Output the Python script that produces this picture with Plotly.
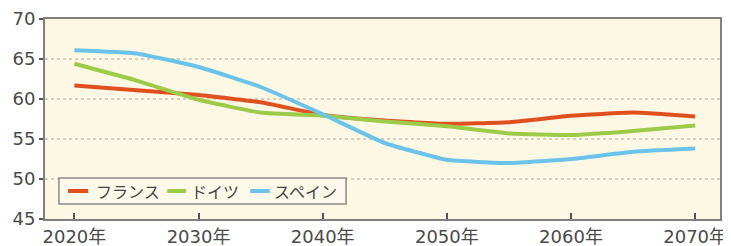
import plotly.graph_objects as go

years = [2020, 2025, 2030, 2035, 2040, 2045, 2050, 2055, 2060, 2065, 2070]
france = [61.7, 61.1, 60.5, 59.6, 58.0, 57.3, 56.9, 57.1, 57.9, 58.3, 57.8]
germany = [64.4, 62.3, 59.9, 58.3, 57.9, 57.2, 56.6, 55.7, 55.5, 56.0, 56.7]
spain = [66.1, 65.7, 64.0, 61.5, 58.1, 54.5, 52.4, 52.0, 52.5, 53.4, 53.8]
series_names = ["フランス", "ドイツ", "スペイン"]
colors = ["#e0501e", "#9bcb48", "#6cc3ea"]
xtick_vals = [2020, 2030, 2040, 2050, 2060, 2070]
xtick_text = ["2020年", "2030年", "2040年", "2050年", "2060年", "2070年"]
ytick_vals = [45, 50, 55, 60, 65, 70]

fig = go.Figure()
for name, vals, col in zip(series_names, [france, germany, spain], colors):
    fig.add_trace(go.Scatter(x=years, y=vals, name=name, mode="lines", showlegend=False,
                             line=dict(color=col, width=4, shape="spline", smoothing=0.4)))

# dotted gridlines
for v in [50, 55, 60, 65]:
    fig.add_shape(type="line", xref="paper", x0=0, x1=1, yref="y", y0=v, y1=v,
                  line=dict(color="#c8c4b4", width=1.5, dash="dot"), layer="below")

# custom legend (box, sample lines, labels) in paper coordinates
fig.add_shape(type="rect", xref="paper", yref="paper", x0=0.0207, x1=0.446, y0=0.075, y1=0.205,
              line=dict(color="#8a8a8a", width=1.5), fillcolor="#fdf9ea", layer="above")
legend_line_x = [(0.034, 0.064), (0.181, 0.209), (0.304, 0.333)]
legend_text_x = [0.072, 0.213, 0.337]
for (x0, x1), tx, name, col in zip(legend_line_x, legend_text_x, series_names, colors):
    fig.add_shape(type="line", xref="paper", yref="paper", x0=x0, x1=x1, y0=0.14, y1=0.14,
                  line=dict(color=col, width=4), layer="above")
    fig.add_annotation(xref="paper", yref="paper", x=tx, y=0.14, text=name, showarrow=False,
                       xanchor="left", yanchor="middle",
                       font=dict(family="Noto Sans CJK JP", size=16, color="#444"))

# page body has an 8px margin, so the figure is shrunk by 8px and margins adjusted
fig.update_layout(
    width=723, height=238,
    margin=dict(l=37, r=11, t=11, b=27),
    paper_bgcolor="white",
    plot_bgcolor="#fdf8e4",
    font=dict(family="DejaVu Sans, Noto Sans CJK JP, sans-serif", size=18, color="#4a4a4a"),
    showlegend=False,
)
fig.update_xaxes(range=[2017.63, 2072.0], tickvals=xtick_vals, ticktext=xtick_text,
                 showgrid=False, zeroline=False, showline=True, linecolor="#808080", linewidth=2,
                 mirror=True, ticks="inside", ticklen=6, tickcolor="#555", tickwidth=1.5,
                 automargin=False, tickfont=dict(size=18, color="#4a4a4a"))
fig.update_yaxes(range=[45, 70], tickvals=ytick_vals, showgrid=False, zeroline=False,
                 showline=True, linecolor="#808080", linewidth=2, mirror=True,
                 ticks="outside", ticklen=4, tickcolor="#555", tickwidth=1.5,
                 automargin=False, tickfont=dict(size=18, color="#4a4a4a"))

fig.write_html("out.html")
